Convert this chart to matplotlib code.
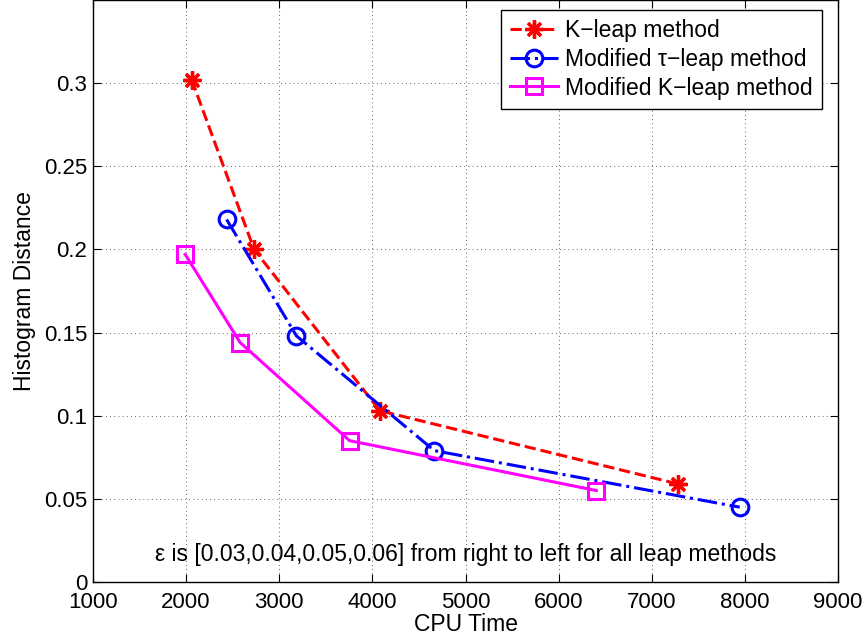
import matplotlib
matplotlib.use("Agg")
import matplotlib.pyplot as plt

# ---- data ----
k_leap_x = [2060, 2730, 4080, 7280]
k_leap_y = [0.302, 0.200, 0.103, 0.059]

mod_tau_x = [2435, 3185, 4665, 7945]
mod_tau_y = [0.218, 0.148, 0.079, 0.045]

mod_k_x = [1990, 2580, 3755, 6405]
mod_k_y = [0.197, 0.144, 0.085, 0.055]

x_ticks = [1000, 2000, 3000, 4000, 5000, 6000, 7000, 8000, 9000]
y_ticks = [0, 0.05, 0.1, 0.15, 0.2, 0.25, 0.3]
y_tick_labels = ["0", "0.05", "0.1", "0.15", "0.2", "0.25", "0.3"]

plt.rcParams['font.family'] = ['Liberation Sans', 'DejaVu Sans']

fig = plt.figure(figsize=(8.68, 6.43), dpi=100)
ax = fig.add_axes([93 / 868, 61 / 643, (838 - 93) / 868, 582 / 643])

ax.plot(k_leap_x, k_leap_y, color='red', linestyle='--', linewidth=2.2,
        marker=(8, 2, 0), markersize=13, markeredgewidth=2.4,
        label='K\u2212leap method')
ax.plot(mod_tau_x, mod_tau_y, color='blue', linestyle='-.', linewidth=2.2,
        marker='o', markersize=12, markerfacecolor='none', markeredgewidth=2.2,
        label='Modified \u03c4\u2212leap method')
ax.plot(mod_k_x, mod_k_y, color='magenta', linestyle='-', linewidth=2.2,
        marker='s', markersize=11, markerfacecolor='none', markeredgewidth=2.2,
        label='Modified K\u2212leap method')

ax.set_xlim(1000, 9000)
ax.set_ylim(0, 0.35)
ax.set_xticks(x_ticks)
ax.set_yticks(y_ticks)
ax.set_yticklabels(y_tick_labels)
ax.tick_params(direction='in', top=True, right=True, length=6, width=0.8,
               labelsize=16, pad=4)
ax.tick_params(axis='x', pad=7)
ax.grid(True, color='black', linestyle=(0, (1, 4)), linewidth=0.6, alpha=0.8)
for s in ax.spines.values():
    s.set_linewidth(1.0)

ax.set_xlabel('CPU Time', fontsize=16.5, labelpad=0)
ax.set_ylabel('Histogram Distance', fontsize=16.5, labelpad=5.5)

ax.text(5000, 0.0165, '\u03b5 is [0.03,0.04,0.05,0.06] from right to left for all leap methods',
        ha='center', va='center', fontsize=16.5)

leg = ax.legend(loc='upper right', bbox_to_anchor=(0.9785, 0.983), fontsize=16.5,
                fancybox=False, framealpha=1, edgecolor='black',
                handlelength=2.1, handletextpad=0.3, borderpad=0.4,
                labelspacing=0.25, borderaxespad=0)
leg.get_frame().set_linewidth(1.0)

fig.savefig('out.png', dpi=100)
